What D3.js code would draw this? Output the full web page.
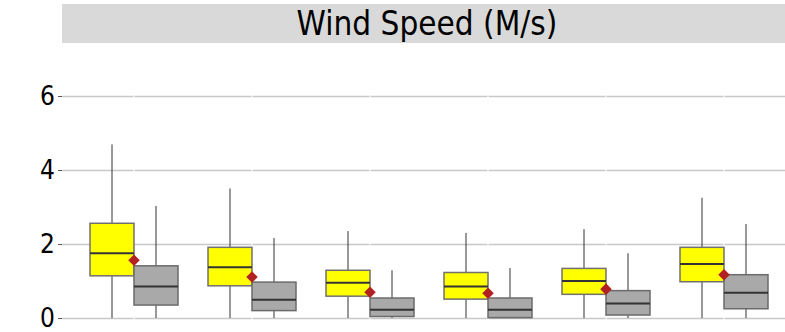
<!DOCTYPE html>
<html>
<head>
<meta charset="utf-8">
<script src="https://cdn.jsdelivr.net/npm/d3@7"></script>
<style>
  body { margin: 0; background: #fff; }
  #chart { width: 785px; height: 332px; }
  text { font-family: "DejaVu Sans Condensed", "DejaVu Sans", sans-serif; }
</style>
</head>
<body>
<div id="chart"></div>
<script>
// groups along the x axis (labels are below the visible area)
const groups = ["G1", "G2", "G3", "G4", "G5", "G6"];
const series = ["A", "B"];

// box stats per group: [whiskerLow, q1, median, q3, whiskerHigh]
const statsA = [
  [0, 1.14, 1.75, 2.56, 4.69],
  [0, 0.87, 1.37, 1.91, 3.50],
  [0, 0.59, 0.95, 1.29, 2.35],
  [0, 0.51, 0.85, 1.23, 2.30],
  [0, 0.64, 1.00, 1.34, 2.40],
  [0, 0.98, 1.46, 1.91, 3.25]
];
const statsB = [
  [0, 0.35, 0.85, 1.41, 3.03],
  [0, 0.20, 0.49, 0.97, 2.16],
  [0, 0.04, 0.22, 0.54, 1.29],
  [0, 0.01, 0.22, 0.54, 1.35],
  [0, 0.08, 0.39, 0.74, 1.75],
  [0, 0.25, 0.68, 1.17, 2.54]
];
const means = [1.56, 1.11, 0.695, 0.67, 0.78, 1.17];
const yTicks = [0, 2, 4, 6];

const width = 785, height = 332;
const margin = { top: 96, left: 62, right: 2, bottom: 14 };

const svg = d3.select("#chart").append("svg")
  .attr("width", width)
  .attr("height", height);

// title band
svg.append("rect")
  .attr("x", 62).attr("y", 4)
  .attr("width", width - 62).attr("height", 39)
  .attr("fill", "#d9d9d9");
svg.append("text")
  .attr("x", 427).attr("y", 35)
  .attr("text-anchor", "middle")
  .attr("font-size", 33)
  .attr("fill", "#000")
  .text("Wind Speed (M/s)");

const yScale = d3.scaleLinear().domain([0, 6]).range([318, 96]);
const xScale = d3.scaleBand().domain(groups).range([75, 783]);
const sub = d3.scaleBand().domain(series).range([-44, 44]);

// grid
svg.append("g")
  .attr("transform", `translate(${margin.left},0)`)
  .call(d3.axisLeft(yScale).tickValues(yTicks).tickSize(-(width - margin.left)).tickFormat(""))
  .call(g => g.select(".domain").remove())
  .call(g => g.selectAll("line").attr("stroke", "#c8c8c8").attr("stroke-width", 1.5));

// little white breaks in grid at group centres
svg.append("g").selectAll("line")
  .data(groups).enter().append("line")
  .attr("x1", d => xScale(d) + xScale.bandwidth() / 2)
  .attr("x2", d => xScale(d) + xScale.bandwidth() / 2)
  .attr("y1", yScale(6) - 2).attr("y2", yScale(0) + 2)
  .attr("stroke", "#fff").attr("stroke-width", 1);

// y axis
const yAxis = svg.append("g")
  .attr("transform", `translate(${margin.left},0)`)
  .call(d3.axisLeft(yScale).tickValues(yTicks).tickFormat(d3.format("d")).tickSize(4).tickPadding(3));
yAxis.select(".domain").remove();
yAxis.selectAll("line").attr("stroke", "#555");
yAxis.selectAll("text").attr("font-size", 26).attr("fill", "#000")
  .attr("font-family", "DejaVu Sans Condensed, DejaVu Sans, sans-serif");

function drawBoxes(stats, key, fill, stroke) {
  const g = svg.append("g");
  const cx = (d, i) => xScale(groups[i]) + xScale.bandwidth() / 2 + sub(key) + sub.bandwidth() / 2;
  const bw = sub.bandwidth();
  g.selectAll(".whisker").data(stats).enter().append("line")
    .attr("x1", cx).attr("x2", cx)
    .attr("y1", d => yScale(d[0])).attr("y2", d => yScale(d[4]))
    .attr("stroke", "#333").attr("stroke-width", 1);
  g.selectAll(".box").data(stats).enter().append("rect")
    .attr("x", (d, i) => cx(d, i) - bw / 2)
    .attr("y", d => yScale(d[3]))
    .attr("width", bw)
    .attr("height", d => yScale(d[1]) - yScale(d[3]))
    .attr("fill", fill).attr("stroke", stroke).attr("stroke-width", 1.5);
  g.selectAll(".median").data(stats).enter().append("line")
    .attr("x1", (d, i) => cx(d, i) - bw / 2).attr("x2", (d, i) => cx(d, i) + bw / 2)
    .attr("y1", d => yScale(d[2])).attr("y2", d => yScale(d[2]))
    .attr("stroke", "#333").attr("stroke-width", 2);
}

drawBoxes(statsA, "A", "#ffff00", "#707070");
drawBoxes(statsB, "B", "#a9a9a9", "#6b6b6b");

// mean markers
svg.append("g").selectAll("path")
  .data(means).enter().append("path")
  .attr("d", d3.symbol(d3.symbolDiamond2, 85))
  .attr("transform", (d, i) => `translate(${xScale(groups[i]) + xScale.bandwidth() / 2},${yScale(d)})`)
  .attr("fill", "#b22222");
</script>
</body>
</html>
